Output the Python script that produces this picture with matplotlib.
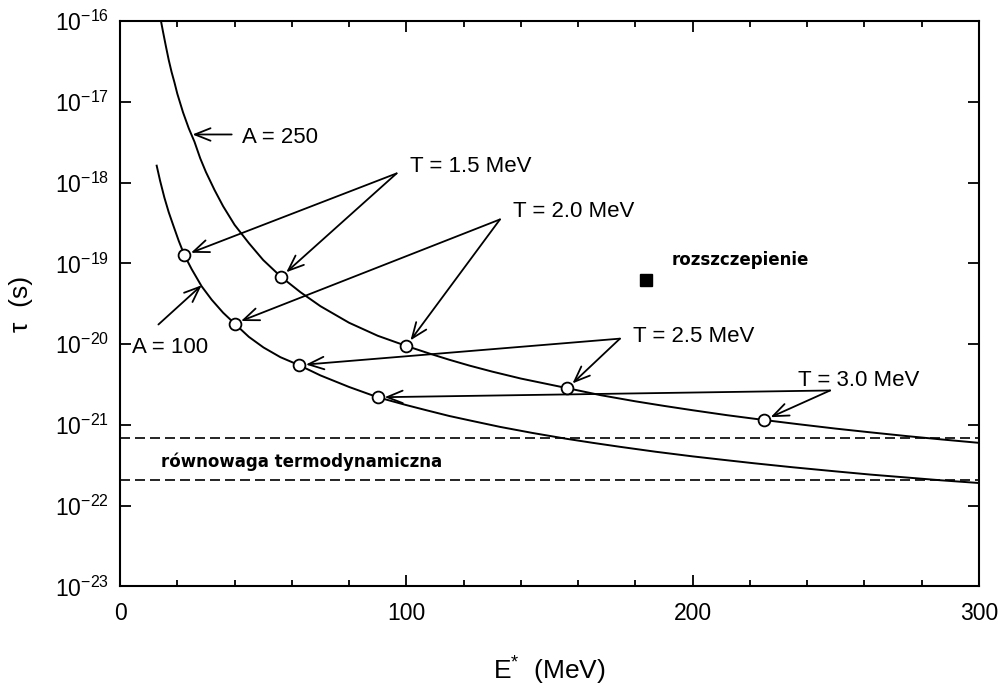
import numpy as np
import matplotlib
matplotlib.use('Agg')
import matplotlib.pyplot as plt
from matplotlib.ticker import MultipleLocator, FixedLocator, NullLocator

plt.rcParams['font.family'] = ['Liberation Sans', 'DejaVu Sans']
plt.rcParams['mathtext.fontset'] = 'custom'
plt.rcParams['mathtext.rm'] = 'Liberation Sans'
plt.rcParams['mathtext.it'] = 'Liberation Sans'

# krzywe czasu zycia (E* w MeV, tau w s)
E_250 = [14.3, 15, 16, 17, 18, 19, 20, 22, 24, 26, 28, 30, 33, 36, 40, 45, 50, 56.25,
         63, 70, 80, 90, 100, 108, 115, 122, 130, 140, 156.25, 168, 180, 190, 200,
         212, 225, 237, 250, 262, 275, 287, 300]
tau_250 = [1.0e-16, 7.4e-17, 4.9e-17, 3.3e-17, 2.34e-17, 1.74e-17, 1.26e-17, 7.4e-18,
           4.7e-18, 3.2e-18, 2.0e-18, 1.35e-18, 8.1e-19, 5.1e-19, 3.0e-19, 1.78e-19,
           1.10e-19, 6.8e-20, 4.4e-20, 2.95e-20, 1.84e-20, 1.27e-20, 9.5e-21, 7.66e-21,
           6.41e-21, 5.43e-21, 4.57e-21, 3.75e-21, 2.85e-21, 2.33e-21, 1.96e-21,
           1.72e-21, 1.52e-21, 1.32e-21, 1.15e-21, 1.02e-21, 9.0e-22, 8.1e-22, 7.26e-22,
           6.61e-22, 6.0e-22]

E_100 = [12.8, 14, 15.5, 17, 18.6, 20.5, 22.5, 25, 28.5, 32, 36, 40, 45, 50.1, 56,
         62.5, 70, 80, 90, 100, 107, 115, 123, 132.7, 144, 156, 165, 174.6, 187, 200,
         210, 221.2, 235, 250, 262, 275, 287, 300]
tau_100 = [1.62e-18, 1.05e-18, 6.5e-19, 4.3e-19, 2.95e-19, 1.9e-19, 1.26e-19, 8.5e-20,
           5.2e-20, 3.55e-20, 2.45e-20, 1.8e-20, 1.23e-20, 9.1e-21, 6.9e-21, 5.5e-21,
           4.1e-21, 2.95e-21, 2.2e-21, 1.76e-21, 1.52e-21, 1.29e-21, 1.12e-21, 9.46e-22,
           7.96e-22, 6.73e-22, 6.01e-22, 5.36e-22, 4.66e-22, 4.08e-22, 3.72e-22,
           3.36e-22, 2.99e-22, 2.66e-22, 2.43e-22, 2.23e-22, 2.06e-22, 1.91e-22]

# punkty temperatury T
T_labels = ['T = 1.5 MeV', 'T = 2.0 MeV', 'T = 2.5 MeV', 'T = 3.0 MeV']
T_E_100 = [22.5, 40.0, 62.5, 90.0]
T_tau_100 = [1.26e-19, 1.8e-20, 5.5e-21, 2.2e-21]
T_E_250 = [56.25, 100.0, 156.25, 225.0]
T_tau_250 = [6.8e-20, 9.5e-21, 2.85e-21, 1.15e-21]
T_apex_E = [96.6, 132.7, 174.6, 248.0]
T_apex_tau = [1.30e-18, 3.5e-19, 1.17e-20, 2.67e-21]
T_text_E = [101.3, 137.4, 179.1, 236.9]
T_text_tau = [1.36e-18, 3.7e-19, 1.06e-20, 3.0e-21]

# rownowaga termodynamiczna
eq_upper = 6.8e-22
eq_lower = 2.1e-22

# rozszczepienie
fis_E = 183.6
fis_tau = 6.2e-20

yticks = [1e-23, 1e-22, 1e-21, 1e-20, 1e-19, 1e-18, 1e-17, 1e-16]
ytick_labels = [r'$10^{-23}$', r'$10^{-22}$', r'$10^{-21}$', r'$10^{-20}$',
                r'$10^{-19}$', r'$10^{-18}$', r'$10^{-17}$', r'$10^{-16}$']

fig = plt.figure(figsize=(10.07, 6.87), dpi=100)
ax = fig.add_axes([0.1192, 0.1463, 0.853, 0.8231])

ax.set_yscale('log')
ax.set_xlim(0, 300)
ax.set_ylim(1e-23, 1e-16)

ax.plot(E_250, tau_250, color='black', lw=1.4)
ax.plot(E_100, tau_100, color='black', lw=1.4)

ax.axhline(eq_upper, color='black', lw=1.2, ls=(0, (6, 3)))
ax.axhline(eq_lower, color='black', lw=1.2, ls=(0, (6, 3)))

ax.plot(T_E_100, T_tau_100, 'o', mfc='white', mec='black', mew=1.3, ms=8.5, zorder=5)
ax.plot(T_E_250, T_tau_250, 'o', mfc='white', mec='black', mew=1.3, ms=8.5, zorder=5)

ax.plot([fis_E], [fis_tau], 's', color='black', ms=8)

arrow_kw = dict(arrowstyle='->,head_length=0.75,head_width=0.3', color='black',
                lw=1.3, shrinkA=0, shrinkB=5, mutation_scale=15)

for i, lab in enumerate(T_labels):
    ax.text(T_text_E[i], T_text_tau[i], lab, fontsize=16, ha='left', va='baseline')
    ax.annotate('', xy=(T_E_100[i], T_tau_100[i]), xytext=(T_apex_E[i], T_apex_tau[i]),
                arrowprops=arrow_kw)
    ax.annotate('', xy=(T_E_250[i], T_tau_250[i]), xytext=(T_apex_E[i], T_apex_tau[i]),
                arrowprops=arrow_kw)

# etykiety A
ax.text(42.7, 3.1e-18, 'A = 250', fontsize=16, ha='left', va='baseline')
ax.annotate('', xy=(25.3, 3.94e-18), xytext=(39.0, 3.94e-18),
            arrowprops=dict(arrow_kw, shrinkB=0))
ax.text(4.1, 7.76e-21, 'A = 100', fontsize=16, ha='left', va='baseline')
ax.annotate('', xy=(28.5, 5.36e-20), xytext=(13.4, 1.75e-20),
            arrowprops=dict(arrow_kw, shrinkB=0))

ax.text(192.7, 9.5e-20, 'rozszczepienie', fontsize=12, fontweight='bold',
        family='DejaVu Sans', ha='left', va='baseline')
ax.text(14.3, 3.0e-22, 'równowaga termodynamiczna', fontsize=12, fontweight='bold',
        family='DejaVu Sans', ha='left', va='baseline')

# osie
ax.xaxis.set_major_locator(FixedLocator([0, 100, 200, 300]))
ax.xaxis.set_minor_locator(MultipleLocator(20))
ax.yaxis.set_major_locator(FixedLocator(yticks))
ax.yaxis.set_minor_locator(NullLocator())
ax.set_yticklabels(ytick_labels)

ax.tick_params(which='both', direction='in', top=True, right=True, width=1.3)
ax.tick_params(axis='x', which='major', length=8, labelsize=16.5, pad=11)
ax.tick_params(axis='x', which='minor', length=4)
ax.tick_params(axis='y', which='major', length=8, labelsize=16.5, pad=8)
for sp in ax.spines.values():
    sp.set_linewidth(1.5)

ax.set_xlabel(r'E$^{*}$  (MeV)', fontsize=19)
ax.xaxis.set_label_coords(0.5, -0.121)
ax.set_ylabel('τ  (s)', fontsize=19)
ax.yaxis.set_label_coords(-0.101, 0.5)

fig.savefig('out.png', dpi=100)
